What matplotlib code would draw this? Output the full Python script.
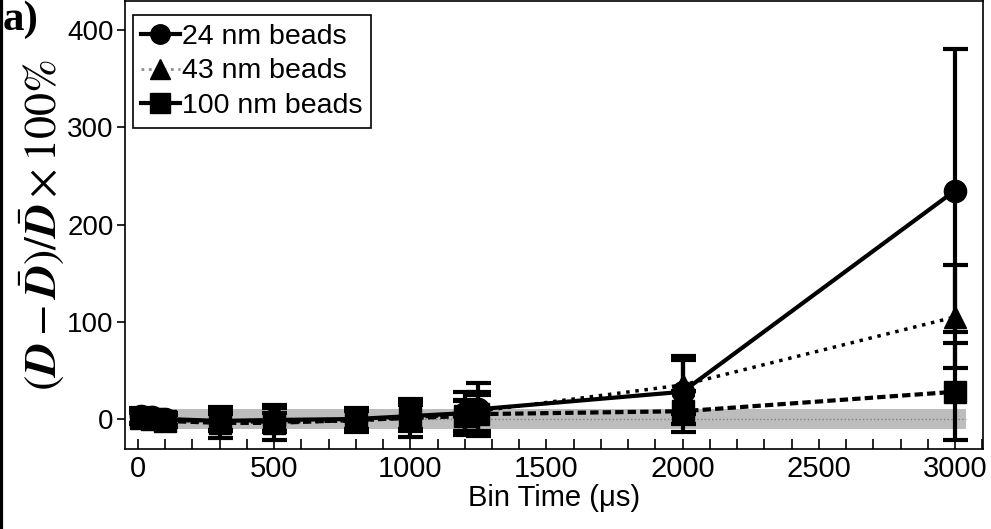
import numpy as np
import matplotlib.pyplot as plt
from matplotlib.lines import Line2D

plt.rcParams['font.family'] = ['Liberation Sans', 'DejaVu Sans']
plt.rcParams['mathtext.fontset'] = 'stix'

# bin times (us)
bin_time = [10, 50, 100, 300, 500, 800, 1000, 1200, 1250, 2000, 3000]

# relative deviation (%) and error bars
dev_24 = [3, 2, 0, -2, -1, 0, 3, 6, 10, 28, 235]
err_24 = [8, 7, 6, 10, 12, 10, 15, 22, 27, 33, 146]
dev_43 = [2, 1, -1, -3, -3, -2, 2, 4, 8, 35, 105]
err_43 = [6, 6, 6, 8, 9, 10, 12, 16, 20, 30, 53]
dev_100 = [1, 0, -2, -4, -4, -1, 1, 3, 5, 8, 28]
err_100 = [5, 5, 6, 16, 18, 12, 20, 16, 20, 21, 50]

band = 10  # grey tolerance band (+/- %)

fig = plt.figure(figsize=(9.91, 5.29), dpi=100)
ax = fig.add_axes([0.126, 0.151, 0.866, 0.847])

ax.fill_between([-30, 3040], -band, band, color='#bdbdbd', lw=0, zorder=0)
ax.plot([-30, 3040], [0, 0], ls=':', color='#808080', lw=1, zorder=1)

common = dict(color='black', ecolor='black', elinewidth=3, capsize=9,
              capthick=3, markersize=16, zorder=3)
ax.errorbar(bin_time, dev_24, yerr=err_24, fmt='-o', lw=3,
            label='24 nm beads', **common)
ax.errorbar(bin_time, dev_43, yerr=err_43, fmt=':^', lw=2.5,
            label='43 nm beads', **common)
ax.errorbar(bin_time, dev_100, yerr=err_100, fmt='--s', lw=3,
            dashes=(2, 1), label='100 nm beads', **common)

ax.set_xlim(-48, 3103)
ax.set_ylim(-31, 430)
ax.set_xticks(np.arange(0, 3001, 500))
ax.set_xticks(np.arange(0, 3101, 100), minor=True)
ax.set_yticks([0, 100, 200, 300, 400])
ax.tick_params(axis='x', which='both', direction='in', length=7, width=1.2,
               labelsize=21, pad=4)
ax.tick_params(axis='y', direction='out', length=6, width=1.2, labelsize=20,
               pad=2)
for s in ax.spines.values():
    s.set_linewidth(1.2)

ax.set_xlabel('Bin Time (\u03bcs)', fontsize=21, labelpad=1)
ax.set_ylabel(r'$(\mathbfit{D}-\bar{\mathbfit{D}})/\bar{\mathbfit{D}}\times 100\%$',
              fontsize=33, labelpad=0)

handles = [Line2D([], [], color='black', lw=3, marker='o', markersize=14),
           Line2D([], [], color='#909090', lw=2, ls=':', marker='^',
                  markerfacecolor='black', markeredgecolor='black', markersize=14),
           Line2D([], [], color='black', lw=3, marker='s', markersize=14)]
leg = ax.legend(handles, ['24 nm beads', '43 nm beads', '100 nm beads'],
                loc='upper left', bbox_to_anchor=(0.009, 0.968), fontsize=20.5,
                frameon=True, fancybox=False, edgecolor='black', framealpha=1,
                handlelength=1.35, handletextpad=0.1, borderpad=0.3,
                labelspacing=0.3, borderaxespad=0)
leg.get_frame().set_linewidth(1.2)

fig.text(0.003, 0.962, 'a)', fontsize=31, fontweight='bold',
         family='Liberation Serif', ha='left', va='center')
fig.add_artist(Line2D([0.0015, 0.0015], [0, 1], color='black', lw=3,
                      transform=fig.transFigure))

fig.savefig('out.png', dpi=100)
